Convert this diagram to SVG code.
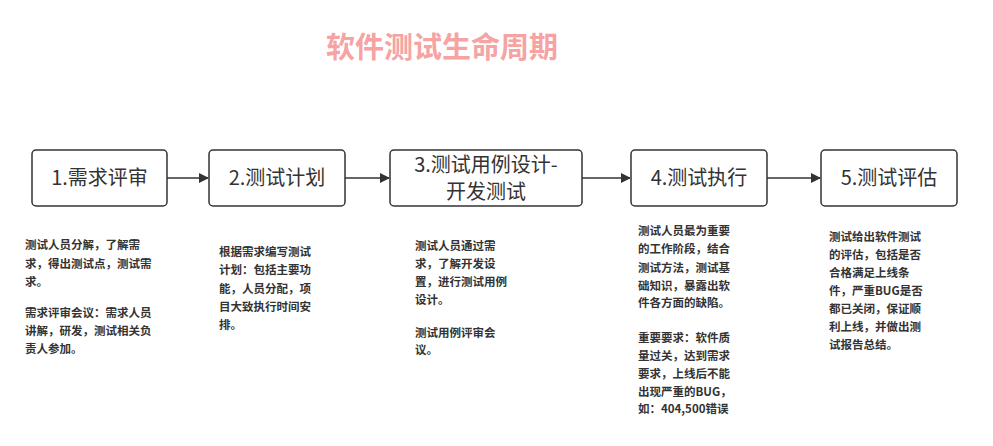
<svg xmlns="http://www.w3.org/2000/svg" width="993" height="446" viewBox="0 0 993 446">
<style>
.box{fill:#fff;stroke:#333;stroke-width:1.5}
.bt{font-family:"Noto Sans CJK SC","Noto Sans",sans-serif;font-size:20px;fill:#333;text-anchor:middle}
.d{font-family:"Noto Sans CJK SC","Noto Sans",sans-serif;font-size:11.5px;font-weight:bold;fill:#333}
.c{stroke:#333;stroke-width:1.5;fill:none;marker-end:url(#ah)}
</style>
<defs><marker id="ah" markerWidth="10" markerHeight="10" refX="9" refY="5" orient="auto" markerUnits="userSpaceOnUse"><path d="M0,0 L10,5 L0,10 z" fill="#333"/></marker></defs>
<rect width="993" height="446" fill="#fff"/>
<text x="442" y="58" font-family="'Noto Sans CJK SC',sans-serif" font-size="29" font-weight="bold" fill="#f5a3a3" text-anchor="middle">软件测试生命周期</text>
<g id="connectors">
<line class="c" x1="167" y1="178" x2="208" y2="178"/>
<line class="c" x1="345" y1="178" x2="389" y2="178"/>
<line class="c" x1="582" y1="178" x2="630" y2="178"/>
<line class="c" x1="767" y1="178" x2="820" y2="178"/>
</g>
<g id="n1"><rect class="box" x="32" y="150" width="135" height="56" rx="4"/><text class="bt" x="99.5" y="185">1.需求评审</text></g>
<g id="n2"><rect class="box" x="209" y="150" width="136" height="56" rx="4"/><text class="bt" x="277" y="185">2.测试计划</text></g>
<g id="n3"><rect class="box" x="390" y="150" width="192" height="56" rx="4"/><text class="bt" x="486" y="172">3.测试用例设计-</text><text class="bt" x="486" y="199">开发测试</text></g>
<g id="n4"><rect class="box" x="631" y="150" width="136" height="56" rx="4"/><text class="bt" x="699" y="185">4.测试执行</text></g>
<g id="n5"><rect class="box" x="821" y="150" width="136" height="56" rx="4"/><text class="bt" x="889" y="185">5.测试评估</text></g>
<g id="t1" class="d">
<text x="25" y="249">测试人员分解，了解需</text>
<text x="25" y="268">求，得出测试点，测试需</text>
<text x="25" y="286">求。</text>
<text x="25" y="317">需求评审会议：需求人员</text>
<text x="25" y="335">讲解，研发，测试相关负</text>
<text x="25" y="353">责人参加。</text>
</g>
<g id="t2" class="d">
<text x="219" y="256">根据需求编写测试</text>
<text x="219" y="274">计划：包括主要功</text>
<text x="219" y="293">能，人员分配，项</text>
<text x="219" y="311">目大致执行时间安</text>
<text x="219" y="329">排。</text>
</g>
<g id="t3" class="d">
<text x="415" y="250">测试人员通过需</text>
<text x="415" y="268">求，了解开发设</text>
<text x="415" y="286">置，进行测试用例</text>
<text x="415" y="304">设计。</text>
<text x="415" y="337">测试用例评审会</text>
<text x="415" y="354">议。</text>
</g>
<g id="t4" class="d">
<text x="638" y="235">测试人员最为重要</text>
<text x="638" y="253">的工作阶段，结合</text>
<text x="638" y="272">测试方法，测试基</text>
<text x="638" y="290">础知识，暴露出软</text>
<text x="638" y="307">件各方面的缺陷。</text>
<text x="638" y="342">重要要求：软件质</text>
<text x="638" y="360">量过关，达到需求</text>
<text x="638" y="378">要求，上线后不能</text>
<text x="638" y="396">出现严重的BUG，</text>
<text x="638" y="413">如：404,500错误</text>
</g>
<g id="t5" class="d">
<text x="829" y="241">测试给出软件测试</text>
<text x="829" y="259">的评估，包括是否</text>
<text x="829" y="277">合格满足上线条</text>
<text x="829" y="295">件，严重BUG是否</text>
<text x="829" y="313">都已关闭，保证顺</text>
<text x="829" y="331">利上线，并做出测</text>
<text x="829" y="349">试报告总结。</text>
</g>
</svg>
